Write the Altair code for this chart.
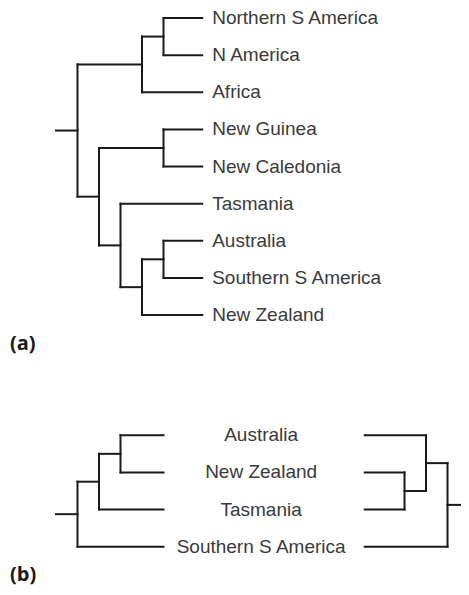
import altair as alt
import pandas as pd

# ---- data: tree topologies with node depths (in branch-step units) ----
leaves_a = ["Northern S America", "N America", "Africa", "New Guinea",
            "New Caledonia", "Tasmania", "Australia", "Southern S America",
            "New Zealand"]
tree_a = (1, [(4, [(5, ["Northern S America", "N America"]), "Africa"]),
              (2, [(5, ["New Guinea", "New Caledonia"]),
                   (3, ["Tasmania",
                        (4, [(5, ["Australia", "Southern S America"]),
                             "New Zealand"])])])])
tip_a = 6.8

leaves_b_left = ["Australia", "New Zealand", "Tasmania", "Southern S America"]
tree_b_left = (1, [(2, [(3, ["Australia", "New Zealand"]), "Tasmania"]),
                   "Southern S America"])
leaves_b_right = ["Australia", "New Zealand", "Tasmania", "Southern S America"]
tree_b_right = (1, [(2, ["Australia", (3, ["New Zealand", "Tasmania"])]),
                    "Southern S America"])
tip_b_left = 5.0
tip_b_right = 4.85

panel_labels = ["(a)", "(b)"]

# ---- layout ----
ROW_B0 = 11.24        # first row of panel (b)
MIRROR = 19.21        # origin of the mirrored tree in panel (b)
UX, UY = 21.5, 37.125 # pixels per depth step / per row
OX, OY = 48, 10       # pixel position of depth 0 / row 0


def layout(tree, leaves, row0, tip, mirror=None):
    segs = []
    rows = {name: row0 + i for i, name in enumerate(leaves)}

    def fx(d):
        return d if mirror is None else mirror - d

    def walk(node):
        if isinstance(node, str):
            return rows[node]
        depth, children = node
        ys = []
        for ch in children:
            cy = walk(ch)
            cd = tip if isinstance(ch, str) else ch[0]
            segs.append(dict(x=fx(depth), x2=fx(cd), y=cy, y2=cy))
            ys.append(cy)
        segs.append(dict(x=fx(depth), x2=fx(depth), y=min(ys), y2=max(ys)))
        return (min(ys) + max(ys)) / 2

    ry = walk(tree)
    segs.append(dict(x=fx(0), x2=fx(tree[0]), y=ry, y2=ry))
    return segs


segs = (layout(tree_a, leaves_a, 0, tip_a)
        + layout(tree_b_left, leaves_b_left, ROW_B0, tip_b_left)
        + layout(tree_b_right, leaves_b_right, ROW_B0, tip_b_right, MIRROR))
seg_df = pd.DataFrame(segs)

lab_a = pd.DataFrame({"name": leaves_a, "x": tip_a,
                      "y": list(range(len(leaves_a)))})
center_b = (tip_b_left + (MIRROR - tip_b_right)) / 2
lab_b = pd.DataFrame({"name": leaves_b_left, "x": center_b,
                      "y": [ROW_B0 + i for i in range(len(leaves_b_left))]})

W, H = 453, 579
xs = alt.Scale(domain=[-OX / UX, (W - OX) / UX], nice=False, zero=False)
ys = alt.Scale(domain=[-OY / UY, (H - OY) / UY], nice=False, zero=False, reverse=True)

lines = alt.Chart(seg_df).mark_rule(color="#1a1a1a", strokeWidth=2, strokeCap="square").encode(
    x=alt.X("x:Q", scale=xs, axis=None),
    x2="x2:Q",
    y=alt.Y("y:Q", scale=ys, axis=None),
    y2="y2:Q",
)

text_a = alt.Chart(lab_a).mark_text(
    align="left", baseline="middle", dx=10, dy=0, font="Liberation Sans",
    fontSize=19, color="#3a3a3a"
).encode(x=alt.X("x:Q", scale=xs), y=alt.Y("y:Q", scale=ys), text="name:N")

text_b = alt.Chart(lab_b).mark_text(
    align="center", baseline="middle", dx=-3, dy=0, font="Liberation Sans",
    fontSize=19, color="#3a3a3a"
).encode(x=alt.X("x:Q", scale=xs), y=alt.Y("y:Q", scale=ys), text="name:N")

pl_a = alt.Chart(pd.DataFrame({"t": [panel_labels[0]]})).mark_text(
    align="left", baseline="alphabetic", font="Open Sans", fontWeight="bold",
    fontSize=20, color="#1a1a1a"
).encode(x=alt.value(2), y=alt.value(342), text="t:N")

pl_b = alt.Chart(pd.DataFrame({"t": [panel_labels[1]]})).mark_text(
    align="left", baseline="alphabetic", font="Open Sans", fontWeight="bold",
    fontSize=20, color="#1a1a1a"
).encode(x=alt.value(2), y=alt.value(573), text="t:N")

chart = alt.layer(lines, text_a, text_b, pl_a, pl_b).properties(
    width=W, height=H, padding=0, autosize="none"
).configure_view(stroke=None)

chart.save("out.html", embed_options={"renderer": "svg", "actions": False})
